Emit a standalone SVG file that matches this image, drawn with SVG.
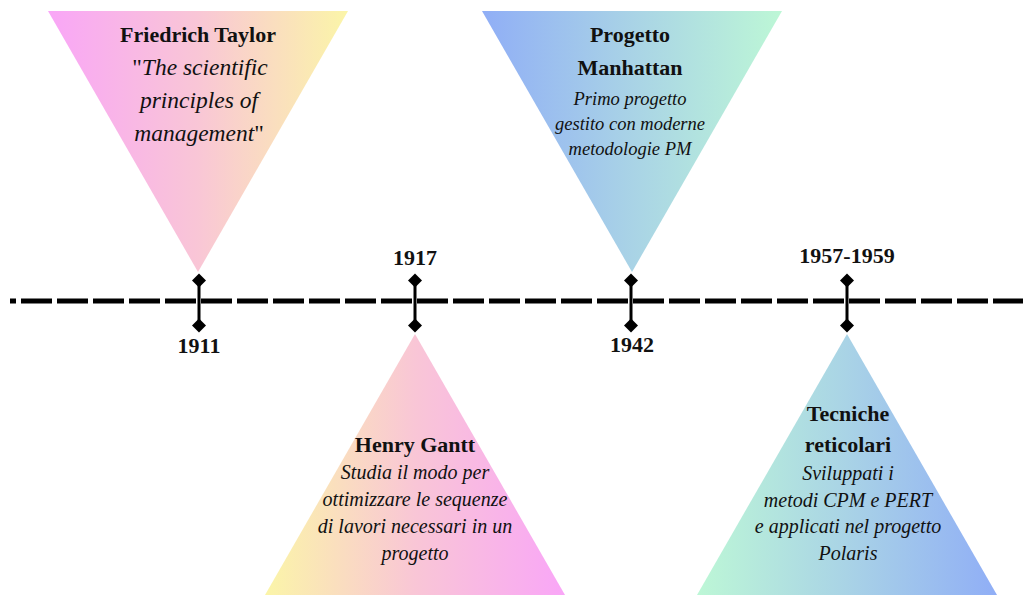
<svg xmlns="http://www.w3.org/2000/svg" width="1023" height="595" viewBox="0 0 1023 595">
<defs>
<linearGradient id="gPY" x1="0" y1="0" x2="1" y2="0"><stop offset="0" stop-color="#f9a6f7"/><stop offset="0.5" stop-color="#f9c6d6"/><stop offset="1" stop-color="#fbf5a8"/></linearGradient>
<linearGradient id="gYP" x1="0" y1="0" x2="1" y2="0"><stop offset="0" stop-color="#fbf5a8"/><stop offset="0.5" stop-color="#f9c6d6"/><stop offset="1" stop-color="#f9a6f7"/></linearGradient>
<linearGradient id="gBM" x1="0" y1="0" x2="1" y2="0"><stop offset="0" stop-color="#90aef6"/><stop offset="0.5" stop-color="#a9d3e6"/><stop offset="1" stop-color="#bdf7d6"/></linearGradient>
<linearGradient id="gMB" x1="0" y1="0" x2="1" y2="0"><stop offset="0" stop-color="#bdf7d6"/><stop offset="0.5" stop-color="#a9d3e6"/><stop offset="1" stop-color="#90aef6"/></linearGradient>
<marker id="dia" viewBox="-8 -8 16 16" markerWidth="16" markerHeight="16" refX="0" refY="0" markerUnits="userSpaceOnUse" orient="0"><path d="M0,-7 L7,0 L0,7 L-7,0 Z" fill="#000"/></marker>
<style>
text{font-family:"Liberation Serif","Times New Roman",serif;fill:#111;text-anchor:middle}
.b{font-weight:bold;font-size:22px}
.i{font-style:italic}
.tick{stroke:#000;stroke-width:3;marker-start:url(#dia);marker-end:url(#dia)}
</style>
</defs>
<g id="connectors">
<line x1="10" y1="301" x2="1023" y2="301" stroke="#000" stroke-width="5" stroke-dasharray="31 5" stroke-dashoffset="25"/>
<line class="tick" x1="199" y1="280.5" x2="199" y2="325.5"/>
<line class="tick" x1="415" y1="280.5" x2="415" y2="325.5"/>
<line class="tick" x1="631" y1="280.5" x2="631" y2="325.5"/>
<line class="tick" x1="847" y1="280.5" x2="847" y2="325.5"/>
</g>
<g id="taylor">
<polygon points="48,11 348,11 198,272" fill="url(#gPY)"/>
<text class="b" x="198" y="42">Friedrich Taylor</text>
<text x="200" y="75" font-size="23.5"><tspan>"</tspan><tspan class="i">The scientific</tspan></text>
<text class="i" x="199" y="108" font-size="23.5">principles of</text>
<text x="199" y="141" font-size="23.5"><tspan class="i">management</tspan><tspan>"</tspan></text>
</g>
<g id="y1911"><text class="b" x="199" y="353">1911</text></g>
<g id="gantt">
<polygon points="415,334 565,595 265,595" fill="url(#gYP)"/>
<text class="b" x="415" y="452">Henry Gantt</text>
<text class="i" x="415" y="479" font-size="20">Studia il modo per</text>
<text class="i" x="415" y="506" font-size="20">ottimizzare le sequenze</text>
<text class="i" x="415" y="533" font-size="20">di lavori necessari in un</text>
<text class="i" x="415" y="560" font-size="20">progetto</text>
</g>
<g id="y1917"><text class="b" x="415" y="265">1917</text></g>
<g id="manhattan">
<polygon points="482,11 782,11 632,272" fill="url(#gBM)"/>
<text class="b" x="630" y="42">Progetto</text>
<text class="b" x="630" y="75">Manhattan</text>
<text class="i" x="630" y="105" font-size="18.5">Primo progetto</text>
<text class="i" x="630" y="130" font-size="18.5">gestito con moderne</text>
<text class="i" x="630" y="155" font-size="18.5">metodologie PM</text>
</g>
<g id="y1942"><text class="b" x="632" y="352">1942</text></g>
<g id="reticolari">
<polygon points="847,334 997,595 697,595" fill="url(#gMB)"/>
<text class="b" x="848" y="421">Tecniche</text>
<text class="b" x="848" y="452">reticolari</text>
<text class="i" x="848" y="480" font-size="20">Sviluppati i</text>
<text class="i" x="848" y="507" font-size="20">metodi CPM e PERT</text>
<text class="i" x="848" y="533" font-size="20">e applicati nel progetto</text>
<text class="i" x="848" y="560" font-size="20">Polaris</text>
</g>
<g id="y1957"><text class="b" x="847" y="263">1957-1959</text></g>
</svg>
